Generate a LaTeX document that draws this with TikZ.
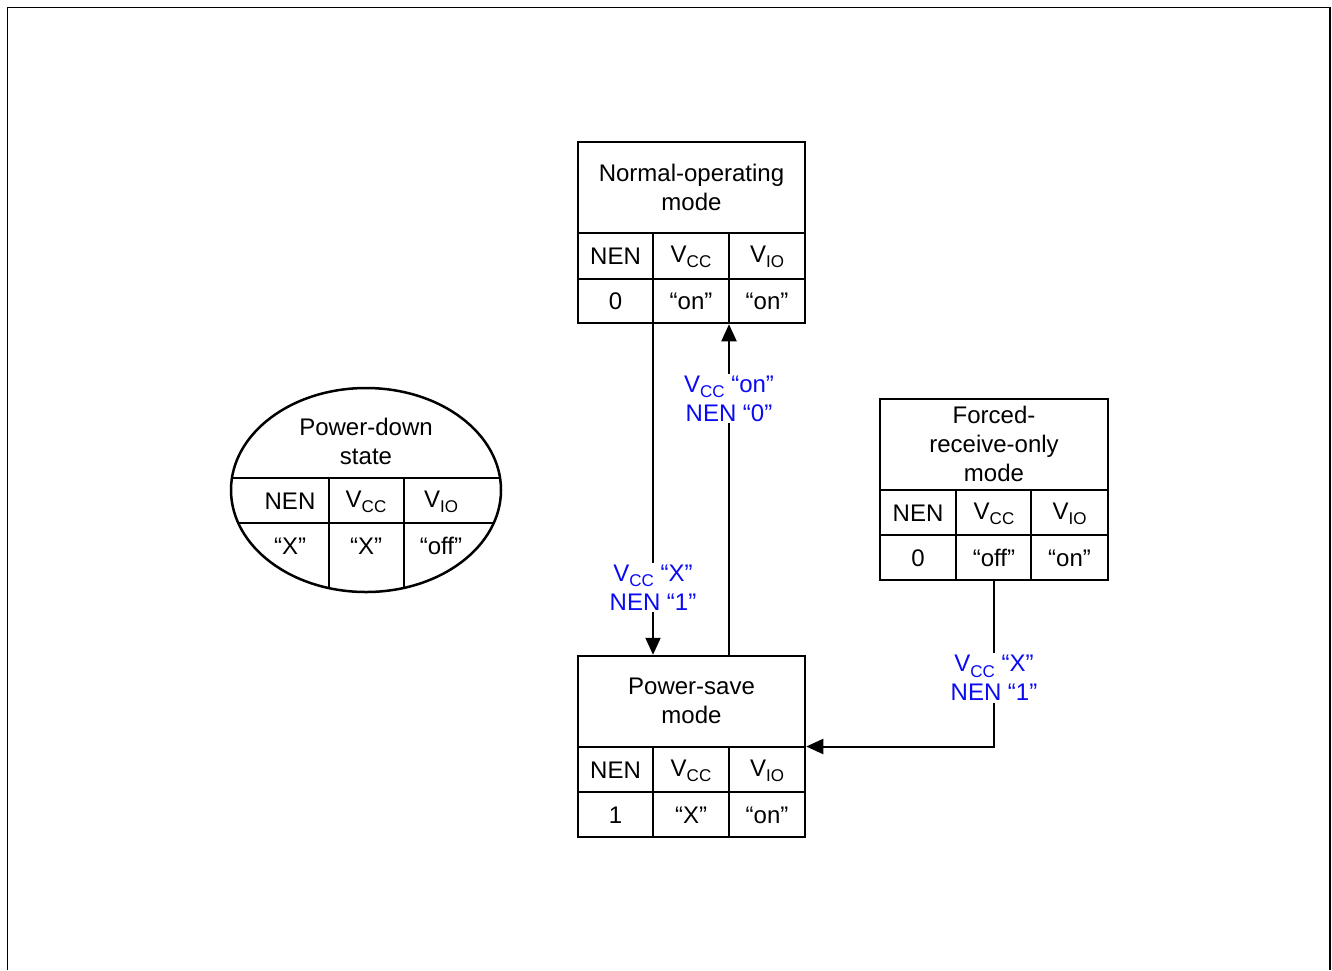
\documentclass[tikz,border=0pt]{standalone}
\usepackage{fontspec}
\setmainfont{Liberation Sans}
\usetikzlibrary{arrows.meta,shapes.geometric}
\newcommand\vsb[1]{V\raisebox{-0.22em}{\fontsize{17}{17}\selectfont #1}}
\definecolor{lblue}{RGB}{10,10,245}
\tikzset{
  frame/.style={line width=1.8pt},
  box/.style={draw, line width=2.5pt, rectangle, inner sep=0pt},
  ell/.style={draw, line width=2.5pt, ellipse, inner sep=0pt},
  grid/.style={line width=2.5pt},
  txt/.style={font=\fontsize{24}{29}\selectfont, align=center, inner sep=0pt},
  lab/.style={font=\fontsize{24}{29}\selectfont, align=center, text=lblue, fill=white, inner sep=2pt},
  arr/.style={line width=2pt, -{Triangle[length=17pt,width=15pt]}},
}
\begin{document}
\begin{tikzpicture}[x=1pt,y=-1pt]
\useasboundingbox (0,0) rectangle (1332,970);
\draw[frame] (7.5,970) -- (7.5,7.5) -- (1330,7.5) -- (1330,970);

% Normal-operating mode
\node[box, minimum width=227pt, minimum height=181pt] (normal) at (691.5,232.5) {};
\draw[grid] (578,233) -- (805,233) (578,279) -- (805,279) (653,233) -- (653,323) (729,233) -- (729,323);
\node[txt] (normalt) at (691.5,187) {Normal-operating\\mode};
\node[txt] (n11) at (615.5,256) {NEN};
\node[txt] (n12) at (691,257) {\vsb{CC}};
\node[txt] (n13) at (767,257) {\vsb{IO}};
\node[txt] (n21) at (615.5,301) {0};
\node[txt] (n22) at (691,301) {“on”};
\node[txt] (n23) at (767,301) {“on”};

% Power-save mode
\node[box, minimum width=227pt, minimum height=181pt] (ps) at (691.5,746.5) {};
\draw[grid] (578,747) -- (805,747) (578,792) -- (805,792) (653,747) -- (653,837) (729,747) -- (729,837);
\node[txt] (pst) at (691.5,701) {Power-save\\mode};
\node[txt] (p11) at (615.5,770) {NEN};
\node[txt] (p12) at (691,771) {\vsb{CC}};
\node[txt] (p13) at (767,771) {\vsb{IO}};
\node[txt] (p21) at (615.5,815) {1};
\node[txt] (p22) at (691,815) {“X”};
\node[txt] (p23) at (767,815) {“on”};

% Forced-receive-only mode
\node[box, minimum width=228pt, minimum height=181pt] (forced) at (994,489.5) {};
\draw[grid] (880,490) -- (1108,490) (880,535) -- (1108,535) (956,490) -- (956,580) (1031,490) -- (1031,580);
\node[txt] (ft) at (994,444) {Forced-\\receive-only\\mode};
\node[txt] (f11) at (918,513) {NEN};
\node[txt] (f12) at (994,514) {\vsb{CC}};
\node[txt] (f13) at (1069.5,514) {\vsb{IO}};
\node[txt] (f21) at (918,558) {0};
\node[txt] (f22) at (994,558) {“off”};
\node[txt] (f23) at (1069.5,558) {“on”};

% Power-down state
\node[ell, minimum width=270pt, minimum height=204pt] (pd) at (366,490) {};
\begin{scope}
\clip (366,490) ellipse [x radius=135, y radius=102];
\draw[grid] (220,478) -- (510,478) (220,523) -- (510,523) (329,478) -- (329,600) (404,478) -- (404,600);
\end{scope}
\node[txt] (pdt) at (366,441) {Power-down\\state};
\node[txt] (d11) at (290,501) {NEN};
\node[txt] (d12) at (366,502) {\vsb{CC}};
\node[txt] (d13) at (441,502) {\vsb{IO}};
\node[txt] (d21) at (290,546) {“X”};
\node[txt] (d22) at (366,546) {“X”};
\node[txt] (d23) at (441,546) {“off”};

% Connectors
\draw[arr] ([xshift=-38.5pt]normal.south) -- ([xshift=-38.5pt]ps.north)
  node[lab, pos=0.796] (l1) {\vsb{CC} “X”\\NEN “1”};
\draw[arr] ([xshift=37.5pt]ps.north) -- ([xshift=37.5pt]normal.south)
  node[lab, pos=0.775] (l2) {\vsb{CC} “on”\\NEN “0”};
\draw[arr] (forced.south) |- (ps.east)
  node[lab, pos=0.293] (l3) {\vsb{CC} “X”\\NEN “1”};
\end{tikzpicture}
\end{document}
